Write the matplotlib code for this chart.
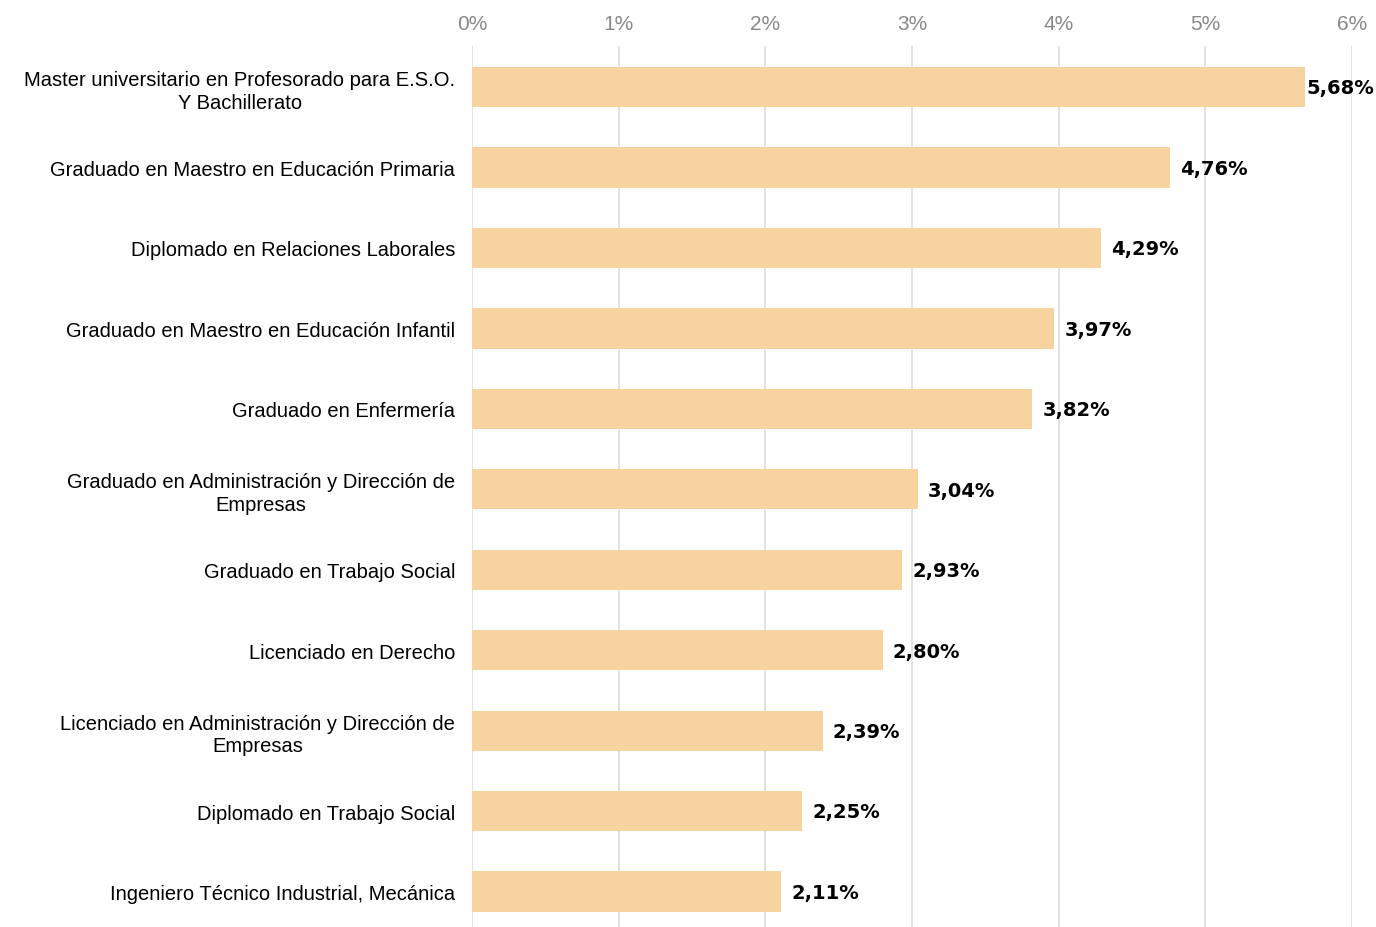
import matplotlib.pyplot as plt
from matplotlib.ticker import FuncFormatter

categories = [
    "Master universitario en Profesorado para E.S.O.\nY Bachillerato",
    "Graduado en Maestro en Educación Primaria",
    "Diplomado en Relaciones Laborales",
    "Graduado en Maestro en Educación Infantil",
    "Graduado en Enfermería",
    "Graduado en Administración y Dirección de\nEmpresas",
    "Graduado en Trabajo Social",
    "Licenciado en Derecho",
    "Licenciado en Administración y Dirección de\nEmpresas",
    "Diplomado en Trabajo Social",
    "Ingeniero Técnico Industrial, Mecánica",
]
values = [5.68, 4.76, 4.29, 3.97, 3.82, 3.04, 2.93, 2.80, 2.39, 2.25, 2.11]
ticks = [0, 1, 2, 3, 4, 5, 6]

plt.rcParams['font.family'] = ['Liberation Sans', 'DejaVu Sans']

fig = plt.figure(figsize=(13.76, 9.28), dpi=100)
ax = fig.add_axes([472 / 1376, 0, 880 / 1376, 881 / 928])

y = list(range(len(values)))
ax.barh(y, values, height=0.5, color='#F7D49F', zorder=2)

# value labels, kept inside the figure for the longest bar
for yi, v in zip(y, values):
    ax.text(min(v + 0.07, 5.69), yi + 0.01, f"{v:.2f}%".replace('.', ','),
            va='center', ha='left', fontsize=14, fontweight='bold',
            family='DejaVu Sans', color='black', zorder=3)

ax.set_xlim(0, 6)
ax.set_ylim(10.44, -0.51)
ax.set_xticks(ticks)
ax.xaxis.set_major_formatter(FuncFormatter(lambda x, p: f"{x:.0f}%"))
ax.xaxis.tick_top()
ax.tick_params(axis='x', length=0, labelsize=15, labelcolor='#888888', pad=9)
ax.tick_params(axis='y', length=0, labelsize=14.5, pad=12)
ax.set_yticks(y)
ax.set_yticklabels(categories, multialignment='center', linespacing=1.25)
for lbl in ax.get_yticklabels():
    lbl.set_va('center_baseline')
ax.grid(axis='x', color='#dddddd', linewidth=1.2, zorder=0)
for s in ax.spines.values():
    s.set_visible(False)

fig.savefig('out.png', dpi=100)
